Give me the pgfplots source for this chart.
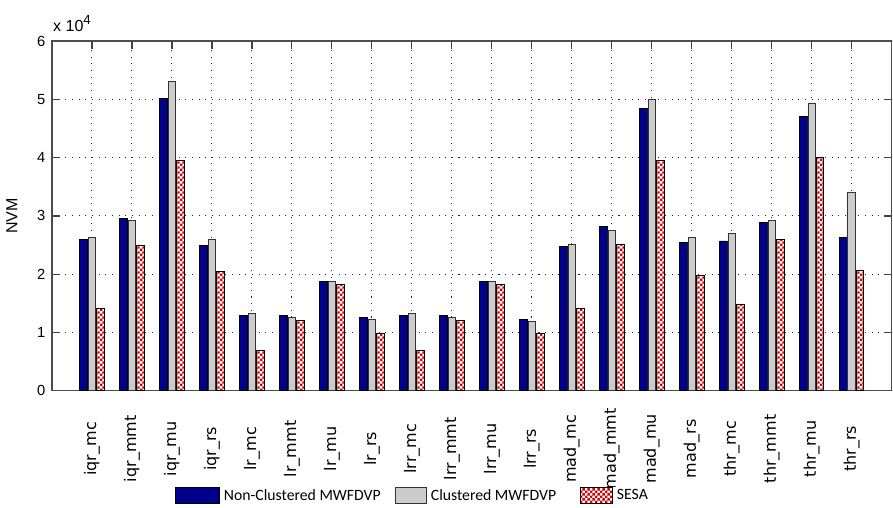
\documentclass[border=0pt]{standalone}
\usepackage{pgfplots}
\pgfplotsset{compat=1.18}
\usepackage{pgfplotstable}
\usepackage{fontspec}
\setmainfont{Liberation Sans}
\newfontfamily\dejavu{DejaVu Sans}
\newfontfamily\carlito{Carlito}
\usetikzlibrary{patterns}

\definecolor{navyb}{RGB}{0,0,140}
\definecolor{lgray}{RGB}{204,204,204}
\definecolor{chkred}{RGB}{210,0,0}

\pgfdeclarepatternformonly{chk}{\pgfpointorigin}{\pgfqpoint{4pt}{4pt}}{\pgfqpoint{4pt}{4pt}}{%
  \pgfpathrectangle{\pgfpointorigin}{\pgfqpoint{2pt}{2pt}}%
  \pgfpathrectangle{\pgfqpoint{2pt}{2pt}}{\pgfqpoint{2pt}{2pt}}%
  \pgfusepath{fill}}

\pgfplotsset{
  legimgA/.style={legend image code/.code={\draw[##1] (0pt,-6pt) rectangle (33pt,6pt);}},
  legimgB/.style={legend image code/.code={\draw[##1] (0pt,-6pt) rectangle (23pt,6pt);}},
  legimgC/.style={legend image code/.code={\draw[##1] (0pt,-6pt) rectangle (24pt,6pt);}},
}

\pgfplotstableread{
x nc c sesa
0 25900 26300 14200
1 29500 29300 25000
2 50200 53000 39500
3 25000 25900 20500
4 12900 13300 6900
5 12900 12600 12000
6 18700 18700 18200
7 12600 12200 9900
8 12900 13300 6900
9 12900 12600 12100
10 18700 18700 18300
11 12200 11900 9900
12 24700 25200 14100
13 28200 27500 25200
14 48400 50000 39500
15 25400 26300 19800
16 25700 27000 14900
17 28900 29300 25900
18 47100 49300 40000
19 26300 34000 20600
}\data

\begin{document}
\begin{tikzpicture}
\begin{axis}[
  scale only axis,
  width=630pt, height=262.5pt,
  ybar=0.6pt, bar width=0.19,
  xmin=-1, xmax=20,
  ymin=0, ymax=60000,
  xtick={0,...,19},
  xticklabels={iqr\_mc,iqr\_mmt,iqr\_mu,iqr\_rs,lr\_mc,lr\_mmt,lr\_mu,lr\_rs,lrr\_mc,lrr\_mmt,lrr\_mu,lrr\_rs,mad\_mc,mad\_mmt,mad\_mu,mad\_rs,thr\_mc,thr\_mmt,thr\_mu,thr\_rs},
  xticklabel shift=43.5pt,
  x tick label style={rotate=90, anchor=center,
    font=\dejavu\fontsize{12}{13}\selectfont},
  ytick={0,10000,20000,30000,40000,50000,60000},
  yticklabels={0,1,2,3,4,5,6},
  scaled y ticks=false,
  y tick label style={font=\fontsize{11}{12}\selectfont, xshift=-1.5pt},
  grid=major,
  grid style={black!85, line width=0.8pt, dash pattern=on 0.8pt off 4.2pt},
  tick align=inside,
  major tick length=6pt,
  tick style={black!75, line width=0.9pt},
  axis line style={black!70, line width=0.9pt},
  ylabel={NVM},
  ylabel style={font=\fontsize{12}{12}\selectfont, yshift=8pt},
  legend style={at={(0.1464,-0.3)}, anchor=west, legend columns=3, draw=none,
    inner sep=0pt, font=\carlito\fontsize{11.8}{12}\selectfont,
    /tikz/every even column/.append style={column sep=0pt}},
]
\addplot[fill=navyb, draw=black, line width=0.6pt, legimgA] table[x=x, y=nc] {\data};
\addplot[fill=lgray, draw=black!80, line width=0.6pt, legimgB] table[x=x, y=c] {\data};
\addplot[fill=white, draw=black, line width=0.6pt, postaction={pattern=chk, pattern color=chkred}, legimgC] table[x=x, y=sesa] {\data};
\legend{\kern1pt Non-Clustered MWFDVP\kern9pt\null, \kern1pt Clustered MWFDVP\kern16pt\null, \kern1pt SESA}
\end{axis}
\node[anchor=base west, font=\fontsize{12}{12}\selectfont, inner sep=0pt] at ([yshift=6.75pt,xshift=0.75pt]current axis.north west) {x 10\raisebox{5.5pt}{\fontsize{10}{10}\selectfont 4}};
\path (current axis.south west) ++(-39pt,-87.75pt) coordinate (bl);
\path (current axis.north east) ++(1pt,30.75pt) coordinate (tr);
\useasboundingbox (bl) rectangle (tr);
\end{tikzpicture}
\end{document}
